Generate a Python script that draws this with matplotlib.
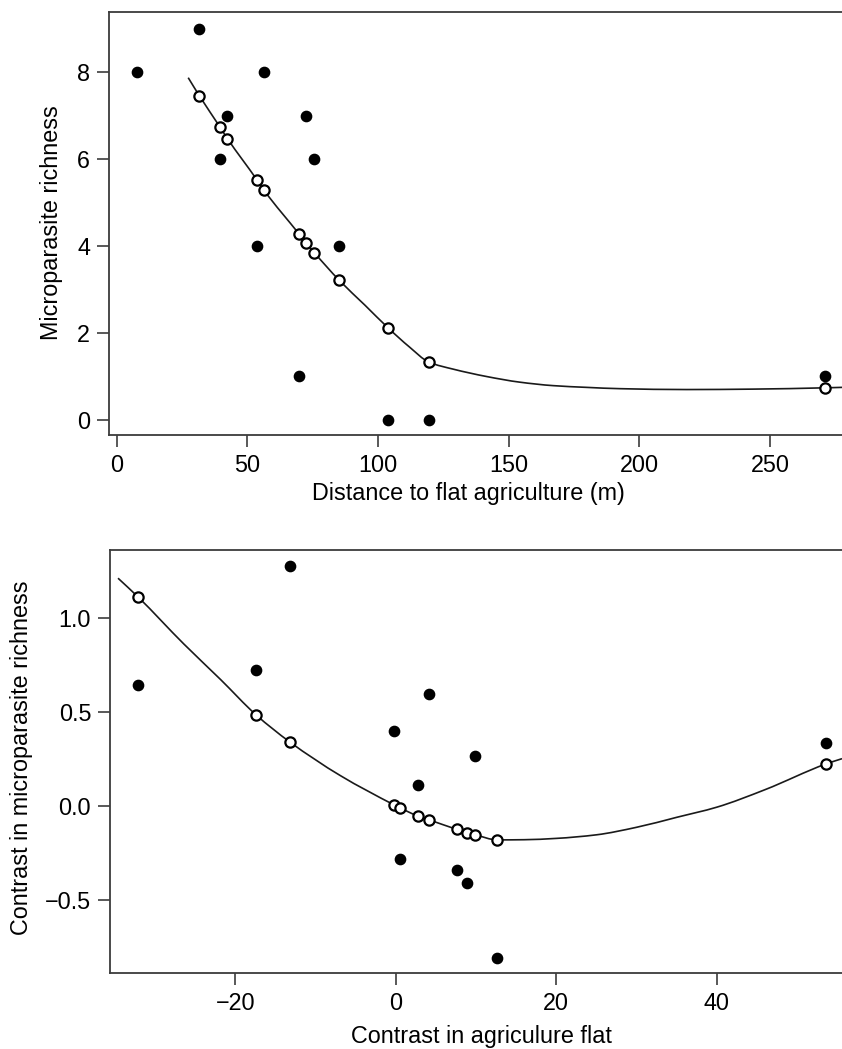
import matplotlib
matplotlib.use("Agg")
import matplotlib.pyplot as plt
from matplotlib.path import Path
from matplotlib.patches import PathPatch

plt.rcParams['font.family'] = ['Liberation Sans', 'DejaVu Sans']

# ---------------- Top panel data ----------------
dist_obs_x = [7.8, 31.6, 56.3, 42.4, 72.4, 39.5, 75.6, 53.7, 85.2, 69.9, 104.0, 119.5, 271.1]
dist_obs_y = [8, 9, 8, 7, 7, 6, 6, 4, 4, 1, 0, 0, 1]
dist_fit_x = [31.6, 39.5, 42.4, 53.7, 56.3, 69.9, 72.4, 75.6, 85.2, 104.0, 119.5, 271.1]
dist_fit_y = [7.46, 6.74, 6.47, 5.52, 5.29, 4.27, 4.08, 3.85, 3.21, 2.11, 1.33, 0.74]
dist_curve_x = [27.4, 31.6, 39.5, 42.4, 53.7, 56.3, 69.9, 72.4, 75.6, 85.2, 95.0, 104.0,
                112.0, 119.5, 128.7, 141.5, 154.2, 167.0, 179.8, 192.6, 218.1, 243.7, 271.1, 277.5]
dist_curve_y = [7.87, 7.46, 6.74, 6.47, 5.52, 5.29, 4.27, 4.08, 3.85, 3.21, 2.64, 2.11,
                1.68, 1.33, 1.17, 1.00, 0.87, 0.79, 0.75, 0.72, 0.70, 0.71, 0.74, 0.75]
top_xticks = [0, 50, 100, 150, 200, 250]
top_yticks = [0, 2, 4, 6, 8]

# ---------------- Bottom panel data ----------------
con_obs_x = [-32.1, -13.2, -17.4, -0.2, 4.2, 2.8, 0.5, 7.6, 8.85, 9.85, 12.66, 53.6]
con_obs_y = [0.642, 1.276, 0.724, 0.395, 0.596, 0.112, -0.281, -0.342, -0.411, 0.263, -0.81, 0.335]
con_fit_x = [-32.1, -17.4, -13.2, -0.2, 0.5, 2.8, 4.2, 7.6, 8.85, 9.85, 12.66, 53.6]
con_fit_y = [1.11, 0.483, 0.339, 0.004, -0.011, -0.056, -0.076, -0.126, -0.143, -0.154, -0.182, 0.222]
con_curve_x = [-34.6, -32.1, -26.4, -21.8, -17.4, -13.2, -6.9, -0.2, 0.5, 2.8, 4.2, 7.6, 8.85,
               9.85, 12.66, 16.0, 20.0, 25.0, 30.0, 35.0, 40.0, 46.0, 53.6, 55.6]
con_curve_y = [1.21, 1.11, 0.86, 0.67, 0.483, 0.339, 0.16, 0.004, -0.011, -0.056, -0.076, -0.126, -0.143,
               -0.154, -0.182, -0.181, -0.174, -0.155, -0.115, -0.062, -0.008, 0.085, 0.222, 0.250]
bot_xticks = [-20, 0, 20, 40]
bot_xticklabels = ['\u221220', '0', '20', '40']
bot_yticks = [-0.5, 0.0, 0.5, 1.0]
bot_yticklabels = ['\u22120.5', '0.0', '0.5', '1.0']

W, H = 842, 1049
fig = plt.figure(figsize=(W / 100, H / 100), dpi=100)

FS = 16.8
SPINE = '#3c3c3c'


def px_axes(left, top, right, bottom):
    return fig.add_axes([left / W, 1 - bottom / H, (right - left) / W, (bottom - top) / H])


def style(ax):
    for s in ['left', 'bottom', 'top']:
        ax.spines[s].set_color(SPINE)
        ax.spines[s].set_linewidth(1.3)
    ax.spines['right'].set_visible(False)
    ax.tick_params(direction='out', length=8.5, width=1.2, color=SPINE,
                   labelsize=FS, pad=5, labelcolor='black')


def smooth_path(xs, ys):
    """Bezier path through the read points (monotone Hermite tangents)."""
    n = len(xs)
    d = [(ys[i + 1] - ys[i]) / (xs[i + 1] - xs[i]) for i in range(n - 1)]
    m = [0.0] * n
    m[0], m[-1] = d[0], d[-1]
    for i in range(1, n - 1):
        if d[i - 1] * d[i] <= 0:
            m[i] = 0.0
        else:
            h0 = xs[i] - xs[i - 1]
            h1 = xs[i + 1] - xs[i]
            w1, w2 = 2 * h1 + h0, h1 + 2 * h0
            m[i] = (w1 + w2) / (w1 / d[i - 1] + w2 / d[i])
    verts = [(xs[0], ys[0])]
    codes = [Path.MOVETO]
    for i in range(n - 1):
        h = xs[i + 1] - xs[i]
        verts += [(xs[i] + h / 3, ys[i] + m[i] * h / 3),
                  (xs[i + 1] - h / 3, ys[i + 1] - m[i + 1] * h / 3),
                  (xs[i + 1], ys[i + 1])]
        codes += [Path.CURVE4] * 3
    return Path(verts, codes)


def draw(ax, cx, cy, ox, oy, fx, fy):
    ax.add_patch(PathPatch(smooth_path(cx, cy), fill=False, edgecolor='#1a1a1a',
                           lw=1.2, zorder=2))
    ax.plot(ox, oy, 'o', ms=7.4, color='black', zorder=3, linestyle='none')
    ax.plot(fx, fy, 'o', ms=7.4, mfc='white', mec='black', mew=1.6, zorder=4, linestyle='none')


# Top
ax1 = px_axes(109, 12, 842, 435)
style(ax1)
draw(ax1, dist_curve_x, dist_curve_y, dist_obs_x, dist_obs_y, dist_fit_x, dist_fit_y)
ax1.set_xlim(-2.9, 277.5)
ax1.set_ylim(-0.345, 9.38)
ax1.set_xticks(top_xticks)
ax1.set_yticks(top_yticks)
fig.text(52 / W, 1 - 223 / H, 'Microparasite richness', rotation=90,
         ha='center', va='center', fontsize=FS)
fig.text(468 / W, 1 - 494 / H, 'Distance to flat agriculture (m)',
         ha='center', va='center', fontsize=FS)

# Bottom
ax2 = px_axes(110, 550, 842, 973)
style(ax2)
draw(ax2, con_curve_x, con_curve_y, con_obs_x, con_obs_y, con_fit_x, con_fit_y)
ax2.set_xlim(-35.6, 55.6)
ax2.set_ylim(-0.89, 1.36)
ax2.set_xticks(bot_xticks)
ax2.set_xticklabels(bot_xticklabels)
ax2.set_yticks(bot_yticks)
ax2.set_yticklabels(bot_yticklabels)
fig.text(22 / W, 1 - 758 / H, 'Contrast in microparasite richness', rotation=90,
         ha='center', va='center', fontsize=FS)
fig.text(481.7 / W, 1 - 1036 / H, 'Contrast in agriculure flat',
         ha='center', va='center', fontsize=FS)

fig.savefig('out.png', dpi=100, facecolor='white')
